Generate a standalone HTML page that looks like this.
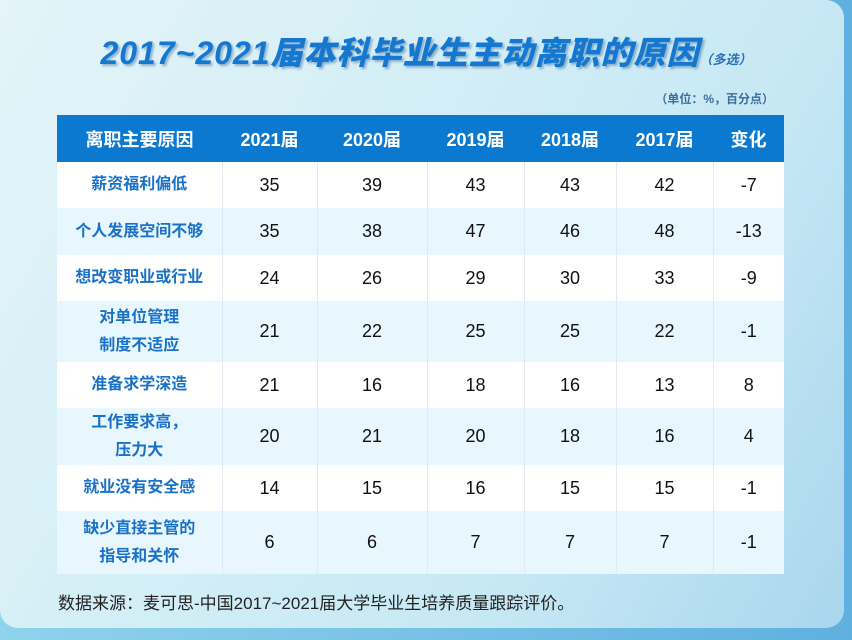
<!DOCTYPE html><html><head><meta charset="utf-8"><style>
body{margin:0;width:852px;height:640px;overflow:hidden;background:linear-gradient(90deg,#8fd3ec,#5fb0e0);font-family:"Liberation Sans","Noto Sans CJK SC",sans-serif;position:relative}
.card{position:absolute;left:0;top:0;width:844px;height:628px;border-radius:0 0 18px 18px;background:linear-gradient(120deg,#e4f4f8 0%,#d3eef6 40%,#c6e8f4 70%,#a9d6ee 100%);border-top-right-radius:18px}
.title{position:absolute;left:0;width:852px;top:28px;text-align:center;font-size:32px;font-weight:900;font-style:italic;color:#1478d0;text-shadow:2px 2px 2px rgba(0,60,120,.35);letter-spacing:1px;font-family:"Liberation Sans","Noto Sans CJK SC",sans-serif;white-space:nowrap}
.title small{font-size:13px;font-weight:700;color:#2a6fb3;text-shadow:none;letter-spacing:0}
.unit{position:absolute;right:78px;top:90px;font-size:12px;font-weight:700;color:#3a6e9c}
table{position:absolute;left:57px;top:115px;border-collapse:collapse;width:727px}
td,th{text-align:center;padding:0;border-right:1px solid #e2e8ef}
th{background:#0b79d0;color:#fff;font-size:18px;font-weight:700;height:47px;border-right:none}
td{font-size:18px;color:#111}
td:first-child{color:#1a72c8;font-weight:700;font-size:16px;line-height:28px}
tr.w td{background:#fff}tr.l td{background:#e8f6fd}
td:last-child{border-right:none}
.foot{position:absolute;left:58px;top:589px;font-size:17px;color:#222;white-space:nowrap}
</style></head><body>
<div class="card"></div>
<div class="title">2017~2021届本科毕业生主动离职的原因<small>（多选）</small></div>
<div class="unit">（单位：%，百分点）</div>
<table>
<colgroup><col style="width:165px"><col style="width:95px"><col style="width:110px"><col style="width:97px"><col style="width:92px"><col style="width:97px"><col style="width:71px"></colgroup>
<tr><th>离职主要原因</th><th>2021届</th><th>2020届</th><th>2019届</th><th>2018届</th><th>2017届</th><th>变化</th></tr>
<tr class="w" style="height:46px"><td>薪资福利偏低</td><td>35</td><td>39</td><td>43</td><td>43</td><td>42</td><td>-7</td></tr>
<tr class="l" style="height:47px"><td>个人发展空间不够</td><td>35</td><td>38</td><td>47</td><td>46</td><td>48</td><td>-13</td></tr>
<tr class="w" style="height:46px"><td>想改变职业或行业</td><td>24</td><td>26</td><td>29</td><td>30</td><td>33</td><td>-9</td></tr>
<tr class="l" style="height:61px"><td>对单位管理<br>制度不适应</td><td>21</td><td>22</td><td>25</td><td>25</td><td>22</td><td>-1</td></tr>
<tr class="w" style="height:46px"><td>准备求学深造</td><td>21</td><td>16</td><td>18</td><td>16</td><td>13</td><td>8</td></tr>
<tr class="l" style="height:57px"><td>工作要求高，<br>压力大</td><td>20</td><td>21</td><td>20</td><td>18</td><td>16</td><td>4</td></tr>
<tr class="w" style="height:46px"><td>就业没有安全感</td><td>14</td><td>15</td><td>16</td><td>15</td><td>15</td><td>-1</td></tr>
<tr class="l" style="height:63px"><td>缺少直接主管的<br>指导和关怀</td><td>6</td><td>6</td><td>7</td><td>7</td><td>7</td><td>-1</td></tr>
</table>
<div class="foot">数据来源：麦可思-中国2017~2021届大学毕业生培养质量跟踪评价。</div>
</body></html>
